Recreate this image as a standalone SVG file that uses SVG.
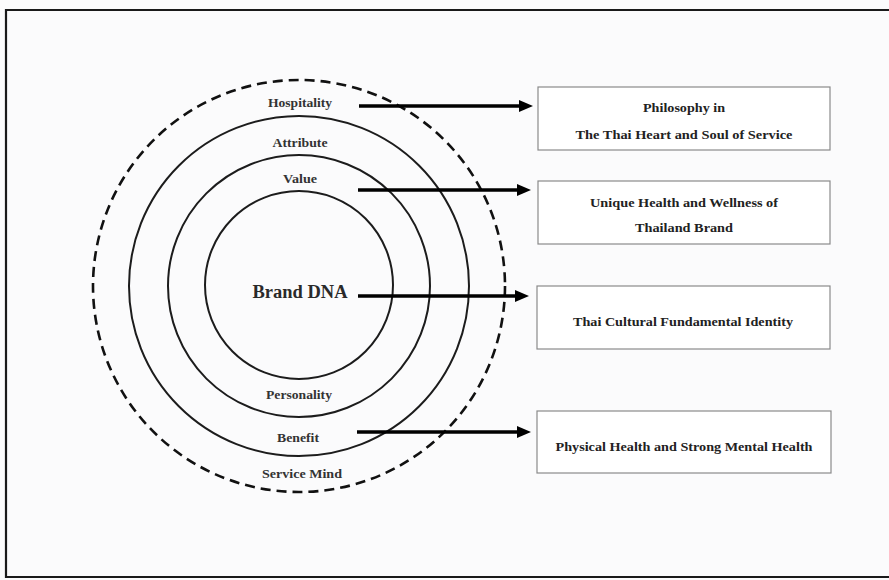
<svg xmlns="http://www.w3.org/2000/svg" width="889" height="580" viewBox="0 0 889 580">
<style>
.frame{fill:none;stroke:#1a1a1a;stroke-width:2.2}
.ring{fill:none;stroke:#1c1c1c;stroke-width:2}
.dash{fill:none;stroke:#111;stroke-width:2.6;stroke-dasharray:10 6}
.lbl{font-family:"Liberation Serif","Times New Roman",serif;font-weight:bold;font-size:12px;fill:#333;text-anchor:middle}
.big{font-family:"Liberation Serif","Times New Roman",serif;font-weight:bold;font-size:18px;fill:#2a2a2a;text-anchor:middle}
.box{fill:#fff;stroke:#8a8a8a;stroke-width:1.2}
.btxt{font-family:"Liberation Serif","Times New Roman",serif;font-weight:bold;font-size:12.5px;fill:#222;text-anchor:middle}
.arr{stroke:#000;stroke-width:3.5;fill:none;marker-end:url(#ah)}
</style>
<defs>
<marker id="ah" markerUnits="userSpaceOnUse" viewBox="0 0 14 12" markerWidth="14" markerHeight="12" refX="0" refY="6" orient="auto">
<path d="M0,0 L14,6 L0,12 Z" fill="#000"/>
</marker>
</defs>
<rect x="0" y="0" width="889" height="580" fill="#fbfbfc"/>
<path class="frame" d="M889 10 H6 V577 H889"/>
<g id="rings">
<circle class="dash" cx="299" cy="286" r="206"/>
<circle class="ring" cx="299" cy="286" r="170"/>
<circle class="ring" cx="299" cy="286" r="131"/>
<circle class="ring" cx="299" cy="285" r="94"/>
</g>
<g id="ring-labels">
<text class="lbl" x="300" y="107" textLength="64" lengthAdjust="spacingAndGlyphs">Hospitality</text>
<text class="lbl" x="300" y="147" textLength="55" lengthAdjust="spacingAndGlyphs">Attribute</text>
<text class="lbl" x="300" y="183" textLength="34" lengthAdjust="spacingAndGlyphs">Value</text>
<text class="big" x="300" y="298" textLength="95" lengthAdjust="spacingAndGlyphs">Brand DNA</text>
<text class="lbl" x="299" y="399" textLength="66" lengthAdjust="spacingAndGlyphs">Personality</text>
<text class="lbl" x="298" y="442" textLength="42" lengthAdjust="spacingAndGlyphs">Benefit</text>
<text class="lbl" x="302" y="478" textLength="80" lengthAdjust="spacingAndGlyphs">Service Mind</text>
</g>
<g id="connectors">
<line class="arr" x1="359" y1="106" x2="519" y2="106"/>
<line class="arr" x1="358" y1="190" x2="517" y2="190"/>
<line class="arr" x1="358" y1="296" x2="515" y2="296"/>
<line class="arr" x1="357" y1="432" x2="517" y2="432"/>
</g>
<g id="box1">
<rect class="box" x="538" y="87" width="292" height="63"/>
<text class="btxt" x="684" y="112" textLength="82" lengthAdjust="spacingAndGlyphs">Philosophy in</text>
<text class="btxt" x="684" y="139" textLength="217" lengthAdjust="spacingAndGlyphs">The Thai Heart and Soul of Service</text>
</g>
<g id="box2">
<rect class="box" x="538" y="181" width="292" height="63"/>
<text class="btxt" x="684" y="207" textLength="188" lengthAdjust="spacingAndGlyphs">Unique Health and Wellness of</text>
<text class="btxt" x="684" y="232" textLength="98" lengthAdjust="spacingAndGlyphs">Thailand Brand</text>
</g>
<g id="box3">
<rect class="box" x="537" y="286" width="293" height="63"/>
<text class="btxt" x="683" y="326" textLength="220" lengthAdjust="spacingAndGlyphs">Thai Cultural Fundamental Identity</text>
</g>
<g id="box4">
<rect class="box" x="537" y="411" width="294" height="62"/>
<text class="btxt" x="684" y="451" textLength="257" lengthAdjust="spacingAndGlyphs">Physical Health and Strong Mental Health</text>
</g>
</svg>
